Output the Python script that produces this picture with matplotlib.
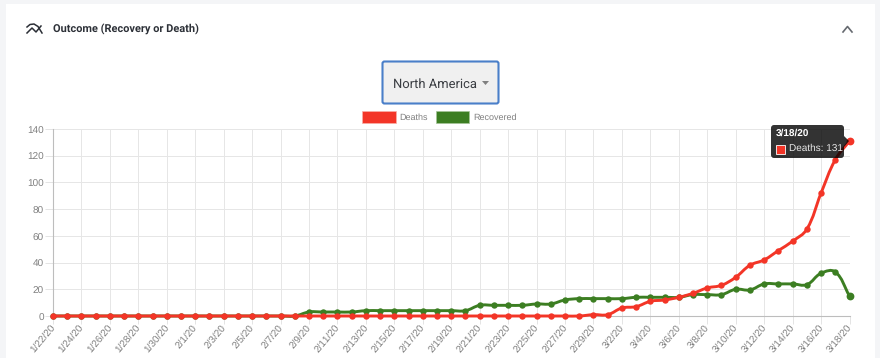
import matplotlib
matplotlib.use('Agg')
import matplotlib.pyplot as plt
from matplotlib.patches import FancyBboxPatch, Rectangle, Polygon, PathPatch
from matplotlib.path import Path
from matplotlib.transforms import ScaledTranslation

plt.rcParams['text.hinting'] = 'none'
plt.rcParams['text.hinting_factor'] = 1

dates = ['1/22/20', '1/23/20', '1/24/20', '1/25/20', '1/26/20', '1/27/20', '1/28/20', '1/29/20', '1/30/20', '1/31/20',
         '2/1/20', '2/2/20', '2/3/20', '2/4/20', '2/5/20', '2/6/20', '2/7/20', '2/8/20', '2/9/20', '2/10/20',
         '2/11/20', '2/12/20', '2/13/20', '2/14/20', '2/15/20', '2/16/20', '2/17/20', '2/18/20', '2/19/20', '2/20/20',
         '2/21/20', '2/22/20', '2/23/20', '2/24/20', '2/25/20', '2/26/20', '2/27/20', '2/28/20', '2/29/20', '3/1/20',
         '3/2/20', '3/3/20', '3/4/20', '3/5/20', '3/6/20', '3/7/20', '3/8/20', '3/9/20', '3/10/20', '3/11/20',
         '3/12/20', '3/13/20', '3/14/20', '3/15/20', '3/16/20', '3/17/20', '3/18/20']
deaths = [0, 0, 0, 0, 0, 0, 0, 0, 0, 0,
          0, 0, 0, 0, 0, 0, 0, 0, 0, 0,
          0, 0, 0, 0, 0, 0, 0, 0, 0, 0,
          0, 0, 0, 0, 0, 0, 0, 0, 1, 1,
          6, 7, 11, 12, 14, 17, 21, 23, 29, 38,
          42, 49, 56, 65, 92, 117, 131]
recovered = [0, 0, 0, 0, 0, 0, 0, 0, 0, 0,
             0, 0, 0, 0, 0, 0, 0, 0, 3, 3,
             3, 3, 4, 4, 4, 4, 4, 4, 4, 4,
             8, 8, 8, 8, 9, 9, 12, 13, 13, 13,
             13, 14, 14, 14, 14, 16, 16, 16, 20, 19.5,
             24, 24, 24, 23.5, 32, 33, 15]
y_ticks = [0, 20, 40, 60, 80, 100, 120, 140]

RED = '#f33527'
GREEN = '#3c7e22'
W, H = 880, 358
SANS = ['Liberation Sans', 'DejaVu Sans']


def spline_path(xs, ys, t=0.4):
    # same bezier control points a chart.js line with tension 0.4 uses
    n = len(xs)
    verts = [(xs[0], ys[0])]
    codes = [Path.MOVETO]
    def ctrl(i):
        p = max(i - 1, 0)
        q = min(i + 1, n - 1)
        dx = xs[q] - xs[p]
        dy = ys[q] - ys[p]
        d1 = ((xs[i] - xs[p]) ** 2 + ((ys[i] - ys[p]) * scale) ** 2) ** 0.5
        d2 = ((xs[q] - xs[i]) ** 2 + ((ys[q] - ys[i]) * scale) ** 2) ** 0.5
        s = d1 + d2
        a = d1 / s if s else 0
        b = d2 / s if s else 0
        return (xs[i] - a * t * dx, ys[i] - a * t * dy), (xs[i] + b * t * dx, ys[i] + b * t * dy)
    for i in range(n - 1):
        verts += [ctrl(i)[1], ctrl(i + 1)[0], (xs[i + 1], ys[i + 1])]
        codes += [Path.CURVE4, Path.CURVE4, Path.CURVE4]
    return Path(verts, codes)


fig = plt.figure(figsize=(W / 100, H / 100), dpi=100, facecolor='#f4f5f7')

# page card and the widgets around the chart, in pixels
ui = fig.add_axes([0, 0, 1, 1], zorder=0)
ui.set_xlim(0, W)
ui.set_ylim(H, 0)
ui.axis('off')
ui.add_patch(Rectangle((6, 4), 869, 360, fc='white', ec='none'))

ui.plot([27, 32, 36, 41], [33, 28, 32, 26], color='#2b2f36', lw=1.1)
ui.plot([27, 30, 34, 38, 42], [27, 24.5, 24, 26.5, 33], color='#2b2f36', lw=1.1)
ui.text(53, 29, 'Outcome (Recovery or Death)', family='Roboto', fontsize=8.1, fontweight='bold',
        color='#2d3138', va='center', ha='left')
ui.plot([843, 847.5, 852], [32, 26.5, 32], color='#666a70', lw=1.2)

ui.add_patch(FancyBboxPatch((382.5, 61.5), 116, 42, boxstyle='round,pad=0,rounding_size=2',
                            fc='#f0f0f0', ec='#4a7fc9', lw=1.5))
ui.text(393, 84, 'North America', family='Roboto', fontsize=9.2, color='#3a3d42', va='center', ha='left')
ui.add_patch(Polygon([(482, 81), (489, 81), (485.5, 85)], fc='#808080', ec='none'))

ui.add_patch(Rectangle((362, 111), 34, 11.5, fc=RED, ec='#f8b0a8', lw=0.5))
ui.text(399.5, 117.5, 'Deaths', family=SANS, fontsize=6.6, color='#808080', va='center', ha='left')
ui.add_patch(Rectangle((436, 111), 33, 11.5, fc=GREEN, ec='#a5c598', lw=0.5))
ui.text(473, 117.5, 'Recovered', family=SANS, fontsize=6.6, color='#808080', va='center', ha='left')

# chart
ax = fig.add_axes([53 / W, 1 - 316 / H, 796.5 / W, 187 / H], zorder=1)
ax.patch.set_alpha(0)
x = list(range(len(dates)))
ax.set_xlim(0, len(dates) - 1)
ax.set_ylim(0, 140)
scale = 187 / 140 / (796.5 / 56)

ax.add_patch(PathPatch(spline_path(x, recovered), fc='none', ec=GREEN, lw=2.1, clip_on=False, zorder=3))
ax.plot(x, recovered, 'o', color=GREEN, ms=4.6, mew=0, clip_on=False, zorder=3)
ax.add_patch(PathPatch(spline_path(x, deaths), fc='none', ec=RED, lw=2.1, clip_on=False, zorder=4))
ax.plot(x, deaths, 'o', color=RED, ms=4.6, mew=0, clip_on=False, zorder=4)
# hovered points are bigger
ax.plot(x[-1], deaths[-1], 'o', color=RED, ms=5.6, mew=0, clip_on=False, zorder=5)
ax.plot(x[-1], recovered[-1], 'o', color=GREEN, ms=5.6, mew=0, clip_on=False, zorder=5)

ax.set_xticks(x[::2])
ax.set_xticklabels(dates[::2], rotation=50, ha='right', va='top', rotation_mode='anchor',
                   family=SANS, fontsize=7, color='#808080')
ax.set_yticks(y_ticks)
ax.set_yticklabels([str(v) for v in y_ticks], family=SANS, fontsize=7.2, color='#808080')
ax.tick_params(axis='both', length=5.5, width=0.7, color='#e4e4e4', pad=1)
shift = ScaledTranslation(-3 / 100, 2 / 100, fig.dpi_scale_trans)
for lab in ax.get_xticklabels():
    lab.set_transform(lab.get_transform() + shift)
down = ScaledTranslation(0, -1 / 100, fig.dpi_scale_trans)
for lab in ax.get_yticklabels():
    lab.set_transform(lab.get_transform() + down)
ax.grid(True, color='#e6e6e6', lw=0.7)
ax.set_axisbelow(True)
for side in ['top', 'right']:
    ax.spines[side].set_visible(False)
for side in ['left', 'bottom']:
    ax.spines[side].set_color('#bdbdbd')
    ax.spines[side].set_linewidth(0.8)

# tooltip
tip = fig.add_axes([0, 0, 1, 1], zorder=2)
tip.set_xlim(0, W)
tip.set_ylim(H, 0)
tip.axis('off')
tip.add_patch(FancyBboxPatch((771, 125), 73, 33, boxstyle='round,pad=0,rounding_size=3',
                             fc='#000000', ec='none', alpha=0.8))
tip.add_patch(Polygon([(844, 136), (849, 141), (844, 147)], fc='#000000', ec='none', alpha=0.8))
tip.text(775.5, 133.5, '3/18/20', family=SANS, fontsize=6.9, fontweight='bold', color='white', va='center', ha='left')
tip.add_patch(Rectangle((776, 144.5), 9, 9, fc=RED, ec='white', lw=0.6))
tip.text(789, 148.5, 'Deaths: 131', family=SANS, fontsize=6.9, color='#e8e8e8', va='center', ha='left')

fig.savefig('out.png', dpi=100, facecolor=fig.get_facecolor())
